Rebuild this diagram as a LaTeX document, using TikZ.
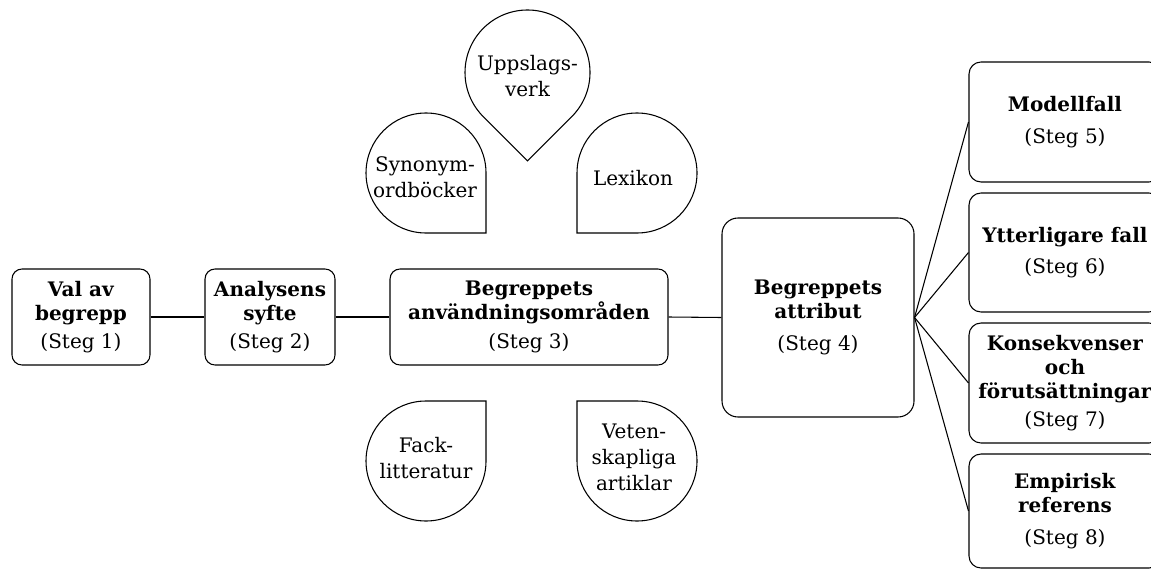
\documentclass[tikz,border=0pt]{standalone}
\usepackage{fontspec}
\setmainfont{DejaVu Serif}
\newdimen\pxu \pxu=0.75pt
\begin{document}
\begin{tikzpicture}[x=0.75pt,y=-0.75pt,
  box/.style={draw, line width=0.8pt, rounded corners=10\pxu, align=center,
    font=\fontsize{15}{18}\selectfont, inner sep=0pt},
  bigbox/.style={box, rounded corners=16\pxu, minimum width=192\pxu},
  sidebox/.style={box, rounded corners=12\pxu, minimum width=192\pxu},
  drop/.style={draw, line width=0.8pt},
  droptext/.style={align=center, font=\fontsize{15}{19.5}\selectfont, inner sep=0pt},
  link/.style={line width=0.8pt}]
\useasboundingbox (0,0) rectangle (1151,570);
\clip (0,0) rectangle (1151,570);

% main chain
\node[box, minimum width=138\pxu, minimum height=96\pxu] (b1) at (81,317)
  {\textbf{Val av}\\\textbf{begrepp}\\[3pt](Steg 1)};
\node[box, minimum width=130\pxu, minimum height=96\pxu] (b2) at (270,317)
  {\textbf{Analysens}\\\textbf{syfte}\\[3pt](Steg 2)};
\node[box, minimum width=278\pxu, minimum height=96\pxu] (b3) at (529,317)
  {\textbf{Begreppets}\\\textbf{användningsområden}\\[4pt](Steg 3)};
\node[bigbox, minimum height=199\pxu] (b4) at (818,317.5)
  {\textbf{Begreppets}\\\textbf{attribut}\\[6pt](Steg 4)};

% right column
\node[sidebox, minimum height=120\pxu] (b5) at (1065,122)
  {\textbf{Modellfall}\\[6pt](Steg 5)};
\node[sidebox, minimum height=119\pxu] (b6) at (1065,252.5)
  {\textbf{Ytterligare fall}\\[5pt](Steg 6)};
\node[sidebox, minimum height=120\pxu] (b7) at (1065,383)
  {\textbf{Konsekvenser}\\\textbf{och}\\\textbf{förutsättningar}\\[3pt](Steg 7)};
\node[sidebox, minimum height=114\pxu] (b8) at (1065,511)
  {\textbf{Empirisk}\\\textbf{referens}\\[6pt](Steg 8)};

% connectors
\draw[link] (b1.east) -- (b2.west);
\draw[link] (b2.east) -- (b3.west);
\draw[link] (b3.east) -- (b4.west);
\draw[link] (b4.east) -- (b5.west);
\draw[link] (b4.east) -- (b6.west);
\draw[link] (b4.east) -- (b7.west);
\draw[link] (b4.east) -- (b8.west);

% drops
% Uppslagsverk (tip down)
\draw[drop] (527.5,160.9) -- ({527.5+62.5*cos(45)},{72.5+62.5*sin(45)})
  arc[start angle=45, end angle=-225, radius=62.5] -- cycle;
\node[droptext] (d1) at (527.5,76) {Uppslags-\\verk};
% Synonymordböcker (sharp corner bottom-right)
\draw[drop] (486,173) -- (486,233) -- (426,233)
  arc[start angle=90, end angle=360, radius=60] -- cycle;
\node[droptext] (d2) at (425,177) {Synonym-\\ordböcker};
% Lexikon (sharp corner bottom-left)
\draw[drop] (577,173) -- (577,233) -- (637,233)
  arc[start angle=90, end angle=-180, radius=60] -- cycle;
\node[droptext] (d3) at (633,178) {Lexikon};
% Facklitteratur (sharp corner top-right)
\draw[drop] (426,401) -- (486,401) -- (486,461)
  arc[start angle=0, end angle=270, radius=60] -- cycle;
\node[droptext] (d4) at (426,458) {Fack-\\litteratur};
% Vetenskapliga artiklar (sharp corner top-left)
\draw[drop] (637,401) -- (577,401) -- (577,461)
  arc[start angle=180, end angle=-90, radius=60] -- cycle;
\node[droptext] (d5) at (634,457) {Veten-\\skapliga\\artiklar};
\end{tikzpicture}
\end{document}
